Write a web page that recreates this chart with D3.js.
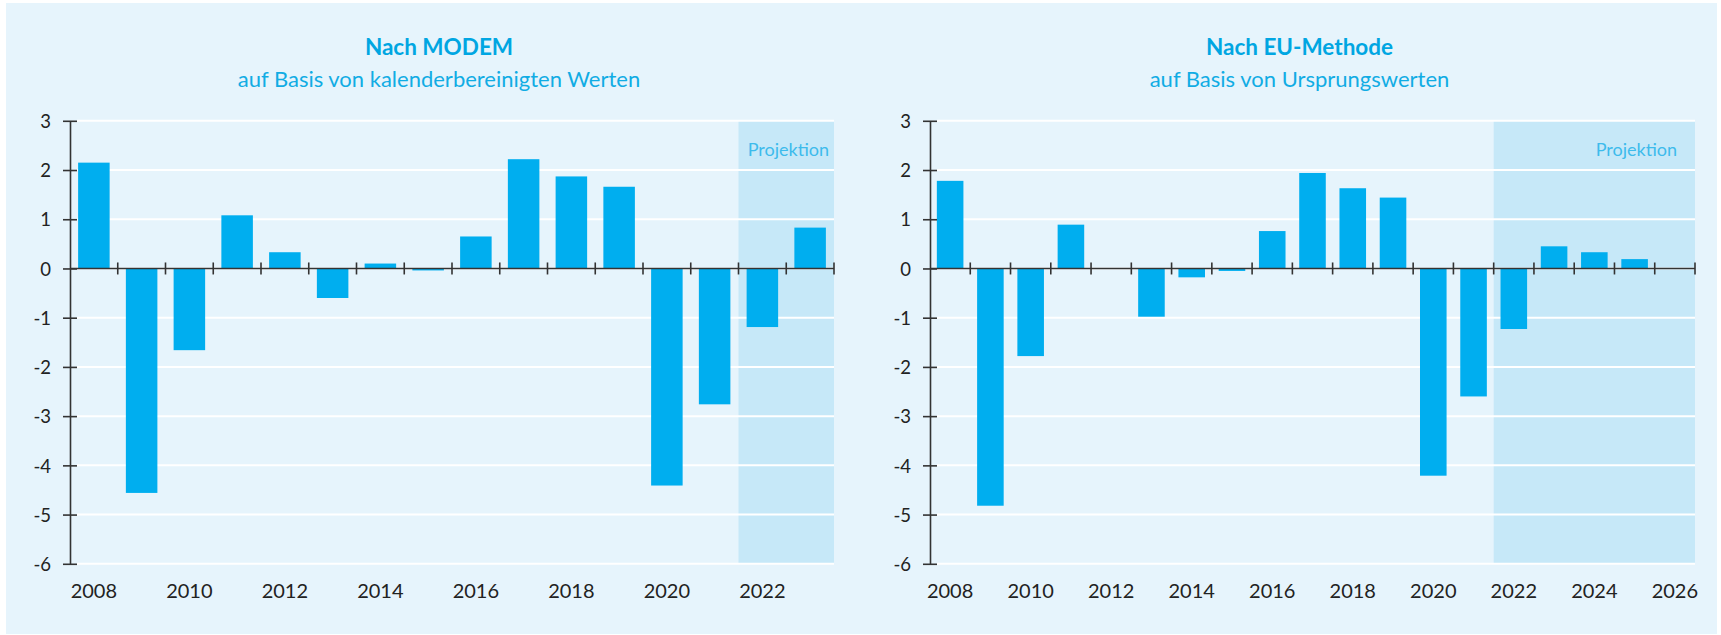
<!DOCTYPE html>
<html lang="de">
<head>
    <meta charset="UTF-8">
    <title>BIP-Wachstum nach MODEM und EU-Methode</title>
    <script type="text/javascript" src="https://cdn.jsdelivr.net/npm/d3@7"></script>
    <style>
        body { margin: 0; background: #fff; }
        text { font-family: Lato, "Open Sans", sans-serif; }
    </style>
</head>
<body>
    <script type="text/javascript">

        // Daten
        var yearsModem = d3.range(2008, 2024);
        var valuesModem = [2.15, -4.56, -1.66, 1.08, 0.33, -0.6, 0.1, -0.04, 0.65, 2.22, 1.87, 1.66, -4.41, -2.76, -1.19, 0.83];

        var yearsEu = d3.range(2008, 2027);
        var valuesEu = [1.78, -4.82, -1.78, 0.89, 0, -0.98, -0.18, -0.05, 0.76, 1.94, 1.63, 1.44, -4.21, -2.6, -1.23, 0.45, 0.33, 0.19, null];

        var yTicks = [3, 2, 1, 0, -1, -2, -3, -4, -5, -6];
        var projectionStart = 2022;

        var titles = ["Nach MODEM", "Nach EU-Methode"];
        var subtitles = ["auf Basis von kalenderbereinigten Werten", "auf Basis von Ursprungswerten"];

        var w = 1721, h = 635;

        var svg = d3.select("body").append("svg")
            .attr("width", w)
            .attr("height", h);

        // Hintergrund
        svg.append("rect")
            .attr("x", 6).attr("y", 3)
            .attr("width", 1711).attr("height", 631)
            .attr("fill", "#e6f4fc");

        var yScale = d3.scaleLinear()
            .domain([-6, 3])
            .range([563.8, 120.8]);

        function drawChart(left, right, years, values, idx, projPad) {
            var g = svg.append("g");

            var xScale = d3.scaleBand()
                .domain(years)
                .range([left, right])
                .paddingInner(0.34)
                .paddingOuter(0.17);

            var step = xScale.step();
            var edge = function(yr) { return xScale(yr) - step * 0.17; };

            // Projektion
            var p0 = edge(projectionStart);
            g.append("rect")
                .attr("x", p0)
                .attr("y", yScale(3))
                .attr("width", right - p0)
                .attr("height", yScale(-6) - yScale(3))
                .attr("fill", "#c6e8f8");

            // Gitterlinien
            g.selectAll(".grid")
                .data(yTicks)
                .enter()
                .append("line")
                .attr("x1", left + 7)
                .attr("x2", right)
                .attr("y1", function(d) { return yScale(d); })
                .attr("y2", function(d) { return yScale(d); })
                .attr("stroke", "#ffffff")
                .attr("stroke-width", 2);

            g.append("text")
                .attr("x", right - projPad)
                .attr("y", 156)
                .attr("text-anchor", "end")
                .attr("fill", "#3dbbec")
                .attr("font-size", 18)
                .text("Projektion");

            // Balken
            g.selectAll(".bar")
                .data(years.map(function(yr, i) { return { year: yr, value: values[i] }; })
                    .filter(function(d) { return d.value !== null && d.value !== 0; }))
                .enter()
                .append("rect")
                .attr("x", function(d) { return xScale(d.year); })
                .attr("y", function(d) { return yScale(Math.max(0, d.value)); })
                .attr("width", xScale.bandwidth())
                .attr("height", function(d) { return Math.abs(yScale(d.value) - yScale(0)); })
                .attr("fill", "#00aeef");

            // y-Achse
            var yAxis = d3.axisLeft(yScale)
                .tickValues(yTicks)
                .tickSizeInner(-7)
                .tickSizeOuter(0)
                .tickFormat(d3.format("d"));

            var ya = g.append("g")
                .attr("transform", "translate(" + left + ",0)")
                .call(yAxis);
            ya.select(".domain").attr("stroke", "#333").attr("stroke-width", 1.6);
            ya.selectAll(".tick line")
                .attr("x1", -7).attr("x2", 7)
                .attr("stroke", "#333").attr("stroke-width", 1.6);
            ya.selectAll(".tick text")
                .attr("x", -19)
                .attr("dy", "0.36em")
                .attr("font-size", 18.5)
                .attr("font-family", "Lato, sans-serif")
                .attr("fill", "#222")
                .text(function(d) { return d < 0 ? "-" + Math.abs(d) : d; });

            // x-Achse (Nulllinie)
            g.append("line")
                .attr("x1", left).attr("x2", right)
                .attr("y1", yScale(0)).attr("y2", yScale(0))
                .attr("stroke", "#333").attr("stroke-width", 1.6);

            var bounds = years.slice(1).map(edge).concat([right]);
            g.selectAll(".xtick")
                .data(bounds)
                .enter()
                .append("line")
                .attr("x1", function(d) { return d; })
                .attr("x2", function(d) { return d; })
                .attr("y1", yScale(0) - 6)
                .attr("y2", yScale(0) + 6)
                .attr("stroke", "#333")
                .attr("stroke-width", 1.6);

            g.selectAll(".xlabel")
                .data(years.filter(function(yr) { return yr % 2 === 0; }))
                .enter()
                .append("text")
                .attr("x", function(d) { return xScale(d) + xScale.bandwidth() / 2; })
                .attr("y", 598)
                .attr("text-anchor", "middle")
                .attr("font-size", 20)
                .attr("fill", "#222")
                .text(function(d) { return d; });

            // Titel
            var cx = (left + right) / 2 - 13;
            g.append("text")
                .attr("x", cx).attr("y", 55)
                .attr("text-anchor", "middle")
                .attr("font-size", 22.5)
                .attr("font-weight", "bold")
                .attr("fill", "#00a6e2")
                .text(titles[idx]);
            g.append("text")
                .attr("x", cx).attr("y", 87)
                .attr("text-anchor", "middle")
                .attr("font-size", 22)
                .attr("fill", "#11ace4")
                .text(subtitles[idx]);
        }

        drawChart(70, 834, yearsModem, valuesModem, 0, 5);
        drawChart(930, 1695, yearsEu, valuesEu, 1, 18);

    </script>
</body>
</html>
